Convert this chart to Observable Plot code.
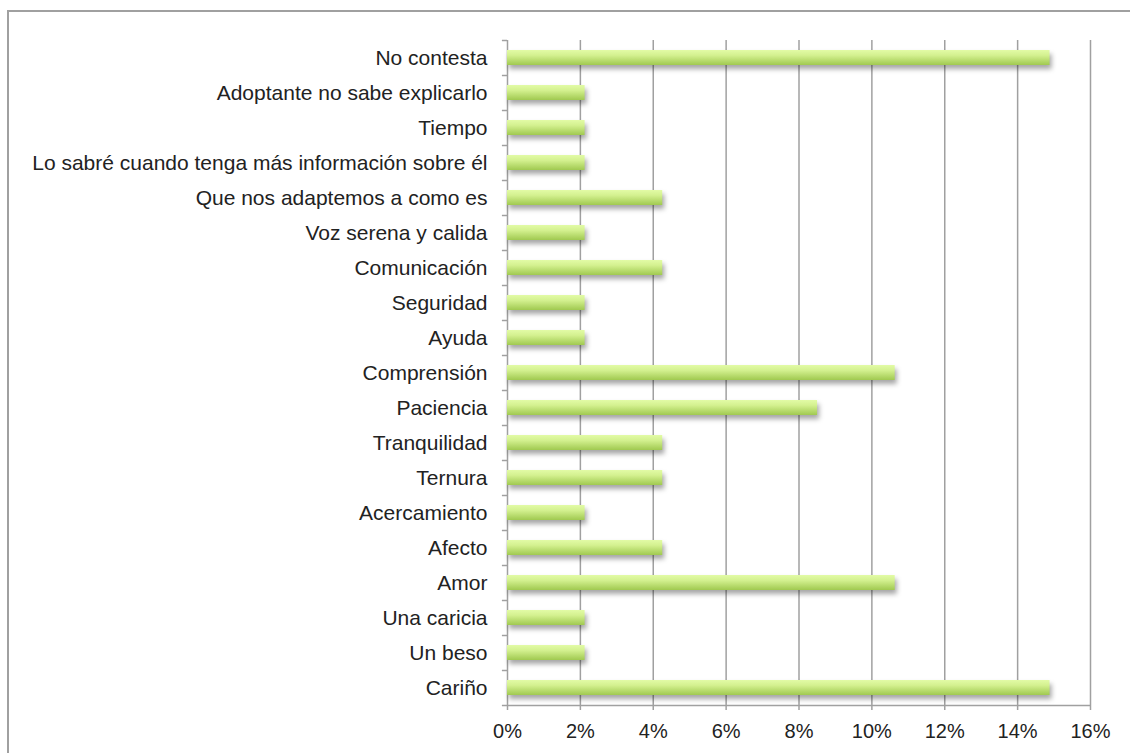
<!DOCTYPE html>
<html>
<head>
<meta charset="utf-8">
<script src="https://cdn.jsdelivr.net/npm/d3@7"></script>
<script src="https://cdn.jsdelivr.net/npm/@observablehq/plot@0.6"></script>
<style>
  html, body { margin: 0; padding: 0; background: #fff; overflow: hidden; }
  #wrap { position: relative; width: 1130px; height: 753px; }
  #frame { position: absolute; left: 7px; top: 10px; width: 1300px; height: 900px; border: 2px solid #a0a0a0; box-sizing: border-box; pointer-events: none; }
  #chart { position: absolute; left: 0; top: 0; }
  svg g[aria-label="bar"] { filter: drop-shadow(2px 4px 2.5px rgba(0,0,0,0.35)); }
</style>
</head>
<body>
<div id="wrap"><div id="chart"></div><div id="frame"></div></div>
<script>
const categories = [
  "No contesta",
  "Adoptante no sabe explicarlo",
  "Tiempo",
  "Lo sabré cuando tenga más información sobre él",
  "Que nos adaptemos a como es",
  "Voz serena y calida",
  "Comunicación",
  "Seguridad",
  "Ayuda",
  "Comprensión",
  "Paciencia",
  "Tranquilidad",
  "Ternura",
  "Acercamiento",
  "Afecto",
  "Amor",
  "Una caricia",
  "Un beso",
  "Cariño"
];
const values = [14.89, 2.13, 2.13, 2.13, 4.26, 2.13, 4.26, 2.13, 2.13, 10.64, 8.51, 4.26, 4.26, 2.13, 4.26, 10.64, 2.13, 2.13, 14.89];
const xTicks = [0, 2, 4, 6, 8, 10, 12, 14, 16];

const data = categories.map((c, i) => ({cat: c, value: values[i]}));
const lastCat = categories[categories.length - 1];
const grid = "#a0a0a0";

const plot = Plot.plot({
  width: 1130,
  height: 753,
  marginLeft: 507,
  marginRight: 40,
  marginTop: 40,
  marginBottom: 48,
  style: {fontFamily: "'Liberation Sans', Arial, sans-serif", fontSize: "21px", color: "#222", background: "transparent"},
  x: {domain: [0, 16], label: null},
  y: {domain: categories, padding: 0, label: null},
  marks: [
    Plot.ruleX(xTicks, {x: d => d, stroke: grid, strokeWidth: 1.5}),
    Plot.ruleY(categories, {y: d => d, x1: -0.14, x2: 0, dy: -17.5, stroke: grid, strokeWidth: 1.5}),
    Plot.ruleY([lastCat], {y: d => d, x1: -0.14, x2: 16, dy: 17.5, stroke: grid, strokeWidth: 1.5}),
    Plot.barX(data, {y: "cat", x: "value", insetTop: 10, insetBottom: 10, fill: "url(#barGrad)"}),
    Plot.axisX({ticks: xTicks, tickFormat: d => d + "%", tickSize: 5, tickPadding: 13, stroke: grid, fill: "#222", fontSize: 20, strokeWidth: 1.5, label: null}),
    Plot.axisY({tickSize: 0, tickPadding: 20, fill: "#222", fontSize: 21, label: null})
  ]
});

const svg = d3.select(plot);
const defs = svg.insert("defs", ":first-child");
const g = defs.append("linearGradient").attr("id", "barGrad").attr("x1", 0).attr("y1", 0).attr("x2", 0).attr("y2", 1);
g.append("stop").attr("offset", "0%").attr("stop-color", "#e2fba6");
g.append("stop").attr("offset", "35%").attr("stop-color", "#d4f190");
g.append("stop").attr("offset", "100%").attr("stop-color", "#a0c950");

document.getElementById("chart").appendChild(plot);
</script>
</body>
</html>
